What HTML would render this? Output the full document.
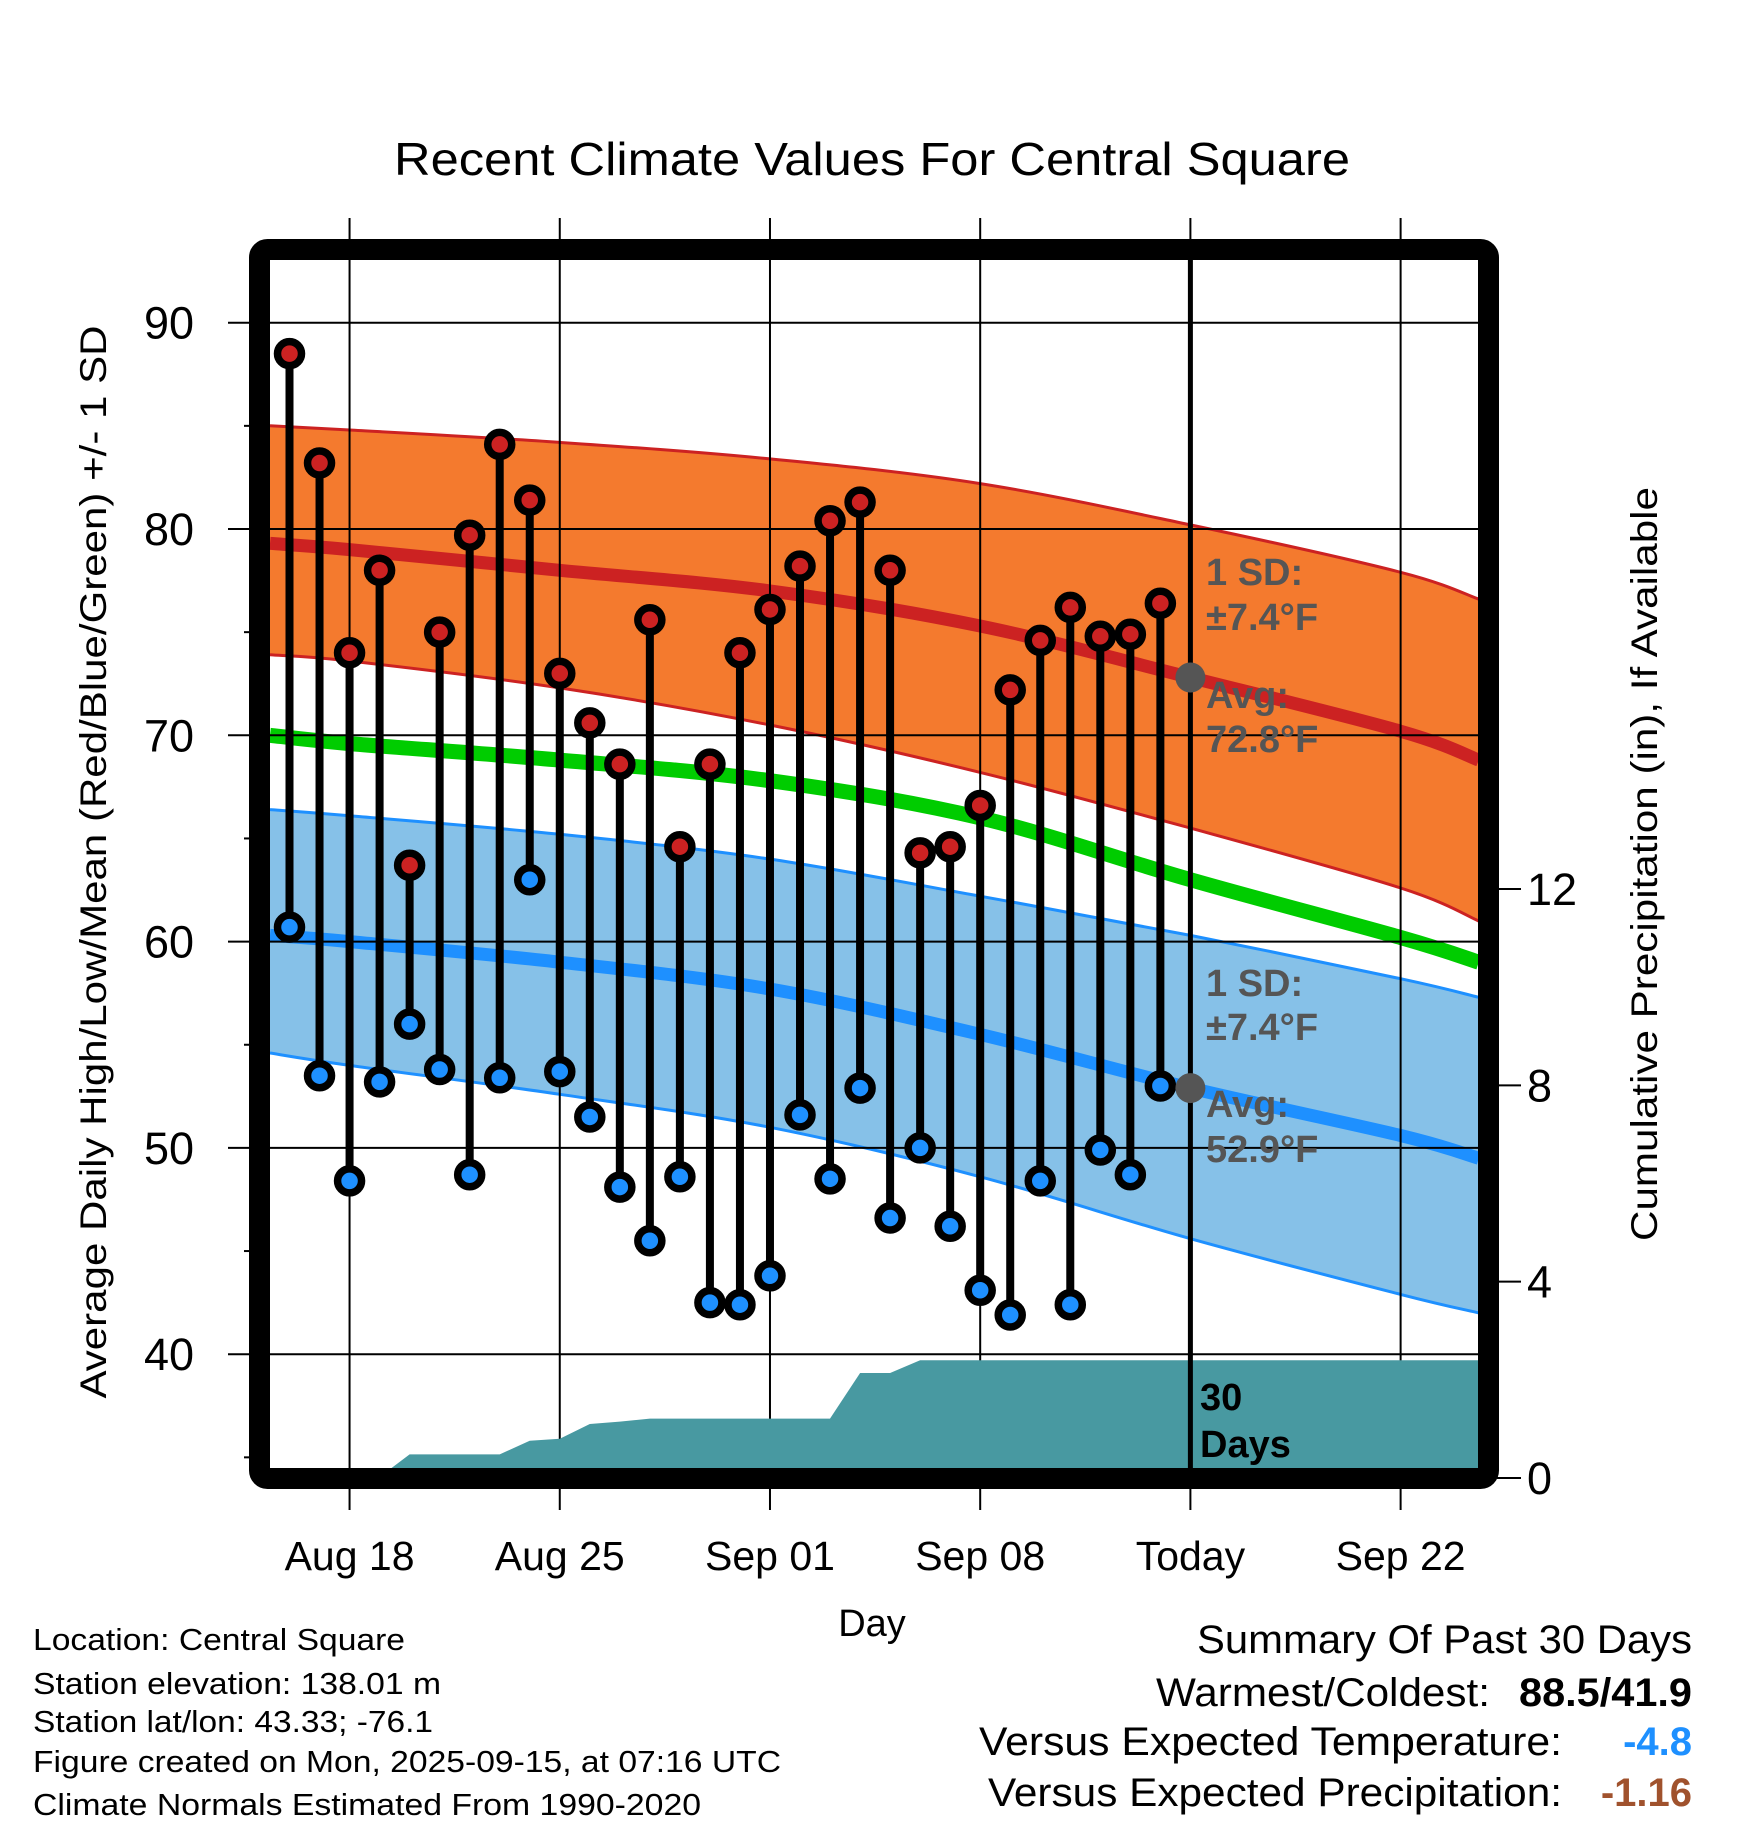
<!DOCTYPE html>
<html><head><meta charset="utf-8"><style>
html,body{margin:0;padding:0;background:#fff}
svg{display:block;font-family:"Liberation Sans",Arial,sans-serif}
</style></head><body>
<svg id="chart" width="1748" height="1828" viewBox="0 0 1748 1828" xmlns="http://www.w3.org/2000/svg">
<defs><clipPath id="plotclip"><rect x="270" y="260" width="1208" height="1209"/></clipPath></defs>
<rect width="1748" height="1828" fill="#fff"/>
<text x="872" y="175" text-anchor="middle" font-size="46" textLength="956" lengthAdjust="spacingAndGlyphs">Recent Climate Values For Central Square</text>
<g id="bands" clip-path="url(#plotclip)"></g>
<g id="grid"></g>
<g id="precip" clip-path="url(#plotclip)"></g>
<g id="marks"></g>
<g id="labels"></g>
<rect x="259.5" y="249.5" width="1229" height="1229" rx="8" fill="none" stroke="#000" stroke-width="21"/>
<g id="axes"></g>
<text transform="translate(106,862) rotate(-90)" text-anchor="middle" font-size="37" textLength="1073" lengthAdjust="spacingAndGlyphs">Average Daily High/Low/Mean (Red/Blue/Green) +/- 1 SD</text>
<text transform="translate(1657,864) rotate(-90)" text-anchor="middle" font-size="37" textLength="754" lengthAdjust="spacingAndGlyphs">Cumulative Precipitation (in), If Available</text>
<text x="872" y="1636" text-anchor="middle" font-size="38">Day</text>
<g font-size="31">
<text x="33" y="1650" textLength="372" lengthAdjust="spacingAndGlyphs">Location: Central Square</text>
<text x="33" y="1694" textLength="408" lengthAdjust="spacingAndGlyphs">Station elevation: 138.01 m</text>
<text x="33" y="1732" textLength="400" lengthAdjust="spacingAndGlyphs">Station lat/lon: 43.33; -76.1</text>
<text x="33" y="1772" textLength="748" lengthAdjust="spacingAndGlyphs">Figure created on Mon, 2025-09-15, at 07:16 UTC</text>
<text x="33" y="1815" textLength="668" lengthAdjust="spacingAndGlyphs">Climate Normals Estimated From 1990-2020</text>
</g>
<g font-size="40">
<text x="1197" y="1653" textLength="495" lengthAdjust="spacingAndGlyphs">Summary Of Past 30 Days</text>
<text x="1156" y="1706" textLength="334" lengthAdjust="spacingAndGlyphs">Warmest/Coldest:</text>
<text x="1519" y="1706" textLength="173" lengthAdjust="spacingAndGlyphs" font-weight="bold">88.5/41.9</text>
<text x="979" y="1755" textLength="583" lengthAdjust="spacingAndGlyphs">Versus Expected Temperature:</text>
<text x="1692" y="1755" text-anchor="end" font-weight="bold" fill="#1e90ff">-4.8</text>
<text x="988" y="1806" textLength="574" lengthAdjust="spacingAndGlyphs">Versus Expected Precipitation:</text>
<text x="1692" y="1806" text-anchor="end" font-weight="bold" fill="#a0522d">-1.16</text>
</g>
</svg>
<script>
// ---- data ----
const days = Array.from({length:30},(_,i)=>i); // offsets from Aug 16
const highs = [88.5,83.2,74.0,78.0,63.7,75.0,79.7,84.1,81.4,73.0,70.6,68.6,75.6,64.6,68.6,74.0,76.1,78.2,80.4,81.3,78.0,64.3,64.6,66.6,72.2,74.6,76.2,74.8,74.9,76.4];
const lows  = [60.7,53.5,48.4,53.2,56.0,53.8,48.7,53.4,63.0,53.7,51.5,48.1,45.5,48.6,42.5,42.4,43.8,51.6,48.5,52.9,46.6,50.0,46.2,43.1,41.9,48.4,42.4,49.9,48.7,53.0];
const precip = [0,0,0,0.02,0.48,0.48,0.48,0.48,0.76,0.80,1.10,1.15,1.21,1.21,1.21,1.21,1.21,1.21,1.21,2.14,2.14,2.40,2.40,2.40,2.40,2.40,2.40,2.40,2.40,2.40];
const normDays = [-0.65,2,9,16,23,30,37,39.6];
const highMean = [79.3,79.0,78.0,77.0,75.3,72.8,70.2,68.8];
const highUp   = [85.0,84.8,84.2,83.4,82.2,80.2,77.9,76.6];
const highLo   = [73.9,73.6,72.3,70.5,68.2,65.5,62.6,61.0];
const meanMean = [70.0,69.6,68.8,67.8,66.0,63.0,60.2,59.0];
const lowMean  = [60.3,60.0,59.0,57.7,55.5,52.9,50.6,49.5];
const lowUp    = [66.4,66.1,65.2,64.0,62.2,60.3,58.2,57.3];
const lowLo    = [54.6,54.0,52.6,51.0,48.6,45.6,42.9,42.0];
const xTickDays = [2,9,16,23,30,37];
const xTickLabels = ["Aug 18","Aug 25","Sep 01","Sep 08","Today","Sep 22"];
const yTicks = [40,50,60,70,80,90];
const yMinor = [35,45,55,65,75,85];
const pTicks = [0,4,8,12];
const todayDay = 30;
const todayHigh = 72.8, todayLow = 52.9;

// ---- scales ----
const X = d => 289.5 + 30.03*d;
const Y = t => 322.7 + (90 - t)*20.63;
const P = p => 1478 - p*49.08;
const NS = "http://www.w3.org/2000/svg";
function mk(tag, parent, attrs){const e=document.createElementNS(NS,tag);for(const k in attrs)e.setAttribute(k,attrs[k]);parent.appendChild(e);return e;}
const xy = arr => arr.map((v,i)=>[X(normDays[i]), Y(v)]);
function smooth(p, move){ // catmull-rom -> bezier
  let s = (move ? "M" : "L") + p[0][0].toFixed(1)+","+p[0][1].toFixed(1);
  for(let i=0;i<p.length-1;i++){
    const p0=p[Math.max(0,i-1)], p1=p[i], p2=p[i+1], p3=p[Math.min(p.length-1,i+2)];
    const c1=[p1[0]+(p2[0]-p0[0])/6, p1[1]+(p2[1]-p0[1])/6];
    const c2=[p2[0]-(p3[0]-p1[0])/6, p2[1]-(p3[1]-p1[1])/6];
    s += " C"+c1.map(v=>v.toFixed(1)).join(",")+" "+c2.map(v=>v.toFixed(1)).join(",")+" "+p2.map(v=>v.toFixed(1)).join(",");
  }
  return s;
}
function bandPath(up, lo){ return smooth(xy(up), true) + " " + smooth(xy(lo).reverse(), false) + " Z"; }

const bands = document.getElementById('bands');
let e;
e = mk('path', bands, {d: bandPath(highUp, highLo), fill:'#f47a2e'});


e = mk('path', bands, {d: bandPath(lowUp, lowLo), fill:'#86c1e8'});


[[highUp,'#cc2222',3,'high-upper-line'],[highLo,'#cc2222',3,'high-lower-line'],[lowUp,'#1e90ff',3,'low-upper-line'],[lowLo,'#1e90ff',3,'low-lower-line'],[highMean,'#cc2222',13,'high-mean-line'],[meanMean,'#00cc00',15,'mean-line'],[lowMean,'#1e90ff',13,'low-mean-line']].forEach(([a,c,w,n])=>{
  const l = mk('path', bands, {d: smooth(xy(a), true), fill:'none', stroke:c, 'stroke-width':w});
  
  
});

// grid
const grid = document.getElementById('grid');
yTicks.forEach(t=>{
  const l = mk('line', grid, {x1:228, x2:1478, y1:Y(t), y2:Y(t), stroke:'#000','stroke-width':2});
  
  
});
yMinor.forEach(t=>{
  const l = mk('line', grid, {x1:244, x2:260, y1:Y(t), y2:Y(t), stroke:'#000','stroke-width':2});
  
  
});
xTickDays.forEach(d=>{
  const l = mk('line', grid, {x1:X(d), x2:X(d), y1:218, y2:1510, stroke:'#000','stroke-width':2});
  
  
});

// precip area
const pr = document.getElementById('precip');
let pp = [X(-1)+','+P(0)];
precip.forEach((v,i)=>pp.push(X(days[i]).toFixed(1)+','+P(v).toFixed(1)));
pp.push(X(40)+','+P(precip[precip.length-1]));
pp.push(X(40)+','+P(0));
e = mk('polygon', pr, {points: pp.join(' '), fill:'#4899a1'});



// today line
const marks = document.getElementById('marks');
e = mk('line', marks, {x1:X(todayDay), x2:X(todayDay), y1:255, y2:1475, stroke:'#000','stroke-width':5});



// stems and dots
days.forEach((d,i)=>{
  const s = mk('line', marks, {x1:X(d), x2:X(d), y1:Y(highs[i]), y2:Y(lows[i]), stroke:'#000','stroke-width':8});
  
  
});
days.forEach((d,i)=>{
  const h = mk('circle', marks, {cx:X(d), cy:Y(highs[i]), r:12, fill:'#cc2222', stroke:'#000','stroke-width':7.5});
  
  
  const l = mk('circle', marks, {cx:X(d), cy:Y(lows[i]), r:12, fill:'#1e90ff', stroke:'#000','stroke-width':7.5});
  
  
});
[todayHigh,todayLow].forEach(v=>{
  const c = mk('circle', marks, {cx:X(todayDay), cy:Y(v), r:15, fill:'#555'});
  
  
});

// labels
const lab = document.getElementById('labels');
[["1 SD:",585],["±7.4°F",630],["Avg:",708],[todayHigh.toFixed(1)+"°F",752],["1 SD:",996],["±7.4°F",1040],["Avg:",1117],[todayLow.toFixed(1)+"°F",1162]].forEach(([t,y])=>{
  const tx = mk('text', lab, {x:1206, y:y, 'font-size':38, 'font-weight':'bold', fill:'#555'});
  tx.textContent = t;
  
  
});
[["30",1410],["Days",1457]].forEach(([t,y])=>{
  const tx = mk('text', lab, {x:1200, y:y, 'font-size':38, 'font-weight':'bold', fill:'#000'});
  tx.textContent = t;
  
  
});

// axes labels
const ax = document.getElementById('axes');
yTicks.forEach(t=>{
  const tx = mk('text', ax, {x:194, y:Y(t)+16, 'text-anchor':'end', 'font-size':45});
  tx.textContent = t;
  
  
});
xTickDays.forEach((d,i)=>{
  const tx = mk('text', ax, {x:X(d), y:1570, 'text-anchor':'middle', 'font-size':41});
  tx.textContent = xTickLabels[i];
  
  
});
pTicks.forEach(p=>{
  const l = mk('line', ax, {x1:1497, x2:1521, y1:P(p), y2:P(p), stroke:'#000','stroke-width':2});
  
  
  const tx = mk('text', ax, {x:1527, y:P(p)+16, 'font-size':45});
  tx.textContent = p;
  
  
});
</script>
</body></html>
